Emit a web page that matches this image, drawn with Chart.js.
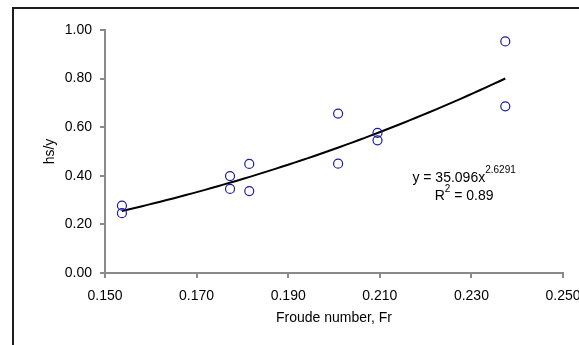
<!DOCTYPE html>
<html>
<head>
<meta charset="utf-8">
<script src="https://cdn.jsdelivr.net/npm/chart.js@4.4.1/dist/chart.umd.min.js"></script>
<style>
  html, body { margin: 0; padding: 0; background: #fff; overflow: hidden; }
  body { width: 579px; height: 345px; position: relative; }
  /* outer chart frame, only its left/top edges fall inside the view */
  #frame { position: absolute; left: 12px; top: 7px; width: 700px; height: 500px;
           border-left: 2px solid #1e1e1e; border-top: 2px solid #1e1e1e; }
  #plot { position: absolute; left: 0; top: 0; }
</style>
</head>
<body>
<div id="frame"></div>
<canvas id="plot" width="600" height="345"></canvas>
<script>
// scour depth ratio vs Froude number
const froude = [0.1537, 0.1537, 0.1773, 0.1773, 0.1815, 0.1815, 0.2009, 0.2009, 0.2095, 0.2095, 0.2374, 0.2374];
const hsY    = [0.277, 0.246, 0.399, 0.346, 0.449, 0.337, 0.656, 0.450, 0.577, 0.546, 0.953, 0.686];

const xTicks = [0.150, 0.170, 0.190, 0.210, 0.230, 0.250];
const yTicks = [0.00, 0.20, 0.40, 0.60, 0.80, 1.00];

// power trendline y = a * x^b, as printed on the plot
const fitCoef = 35.096;
const fitExp  = 2.6291;
const fitR2   = 0.89;

const FONT = 'Liberation Sans, Arial, sans-serif';
const axisGrey = '#8a8a8a';

const points = froude.map((f, i) => ({ x: f, y: hsY[i] }));

const fLo = Math.min(...froude), fHi = Math.max(...froude);
const fitLine = [];
for (let i = 0; i <= 60; i++) {
  const f = fLo + (fHi - fLo) * i / 60;
  fitLine.push({ x: f, y: fitCoef * Math.pow(f, fitExp) });
}

// equation + R² text, centred lines with superscripts
const fitLabel = {
  id: 'fitLabel',
  afterDatasetsDraw(chart) {
    const { ctx, scales: { x, y } } = chart;
    const cx = x.getPixelForValue(0.2284);
    const lines = [
      { base: y.getPixelForValue(0.3745), runs: [[`y = ${fitCoef.toFixed(3)}x`, 14, 0], [fitExp.toFixed(4), 10, -9]] },
      { base: y.getPixelForValue(0.300),  runs: [['R', 14, 0], ['2', 10, -8], [` = ${fitR2.toFixed(2)}`, 14, 0]] },
    ];
    ctx.save();
    ctx.fillStyle = '#000';
    ctx.textBaseline = 'alphabetic';
    ctx.textAlign = 'left';
    for (const ln of lines) {
      let w = 0;
      for (const [t, sz] of ln.runs) { ctx.font = `${sz}px ${FONT}`; w += ctx.measureText(t).width; }
      let px = cx - w / 2;
      for (const [t, sz, dy] of ln.runs) {
        ctx.font = `${sz}px ${FONT}`;
        ctx.fillText(t, px, ln.base + dy);
        px += ctx.measureText(t).width;
      }
    }
    ctx.restore();
  }
};

new Chart(document.getElementById('plot'), {
  type: 'scatter',
  data: {
    datasets: [
      {
        label: 'hs/y',
        data: points,
        pointStyle: 'circle',
        pointRadius: 4.5,
        pointBorderWidth: 1.2,
        pointBorderColor: '#1c1c9e',
        pointBackgroundColor: 'rgba(0,0,0,0)',
        order: 1,
      },
      {
        label: 'Power fit',
        type: 'line',
        data: fitLine,
        borderColor: '#000',
        borderWidth: 2,
        pointRadius: 0,
        tension: 0,
        fill: false,
        order: 2,
      },
    ],
  },
  options: {
    responsive: false,
    animation: false,
    devicePixelRatio: 1,
    layout: { padding: { left: 0, top: 30, right: 37, bottom: 0 } },
    plugins: { legend: { display: false }, tooltip: { enabled: false } },
    scales: {
      x: {
        type: 'linear', min: 0.15, max: 0.25,
        afterBuildTicks: s => { s.ticks = xTicks.map(v => ({ value: v })); },
        afterFit: s => { s.height = 72; },
        grid: { drawOnChartArea: false, drawTicks: true, tickLength: 5, color: axisGrey, lineWidth: 2 },
        border: { color: axisGrey, width: 2 },
        ticks: { color: '#000', font: { family: FONT, size: 14 }, padding: 10, maxRotation: 0, autoSkip: false,
                 callback: v => Number(v).toFixed(3) },
        title: { display: true, text: 'Froude number, Fr', color: '#000',
                 font: { family: FONT, size: 14 }, padding: { top: 0, bottom: 18 } },
      },
      y: {
        type: 'linear', min: 0, max: 1,
        afterBuildTicks: s => { s.ticks = yTicks.map(v => ({ value: v })); },
        afterFit: s => { s.width = 105; },
        grid: { drawOnChartArea: false, drawTicks: true, tickLength: 5, color: axisGrey, lineWidth: 2 },
        border: { color: axisGrey, width: 2 },
        ticks: { color: '#000', font: { family: FONT, size: 14 }, padding: 8, autoSkip: false,
                 callback: v => Number(v).toFixed(2) },
        title: { display: true, text: 'hs/y', color: '#000',
                 font: { family: FONT, size: 14 }, padding: { top: 42, bottom: 0 } },
      },
    },
  },
  plugins: [fitLabel],
});
</script>
</body>
</html>
